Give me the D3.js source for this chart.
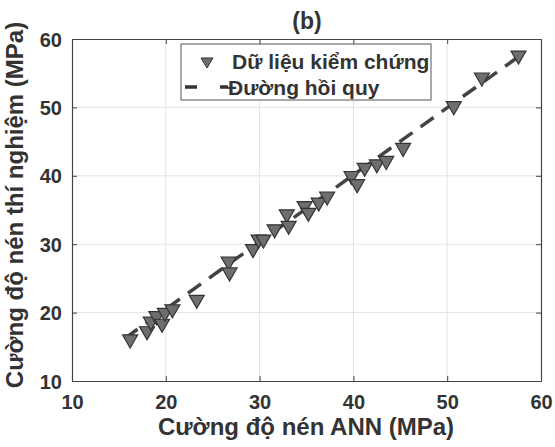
<!DOCTYPE html>
<html>
<head>
<meta charset="utf-8">
<script src="https://cdn.jsdelivr.net/npm/d3@7"></script>
<style>
  body { margin: 0; background: #fff; }
  text { font-family: "Liberation Sans", Arial, sans-serif; font-weight: bold; fill: #333; }
</style>
</head>
<body>
<script>
// data
var annX = [16.2, 18.0, 18.4, 19.0, 19.6, 19.9, 20.7, 23.3, 26.7, 26.8, 29.3, 29.9, 30.4, 31.6, 32.9,
            33.1, 34.8, 35.2, 36.3, 37.2, 39.8, 40.4, 41.2, 42.5, 43.5, 45.3, 50.7, 53.7, 57.6];
var testY = [16.0, 17.2, 18.6, 19.4, 18.3, 19.9, 20.4, 21.8, 27.4, 25.8, 29.2, 30.6, 30.6, 32.1, 34.3,
             32.6, 35.5, 34.5, 36.0, 36.9, 39.9, 38.7, 41.1, 41.6, 42.1, 44.0, 50.1, 54.3, 57.5];
var fitX = [15.6, 57.9];
var fitY = [16.2, 57.7];
var xTicks = [10, 20, 30, 40, 50, 60];
var yTicks = [10, 20, 30, 40, 50, 60];

var w = 555, h = 447;
var pLeft = 72, pRight = 541, pTop = 39, pBottom = 381;

var svg = d3.select('body').append('svg')
  .attr('width', w)
  .attr('height', h);

var x = d3.scaleLinear().domain([10, 60]).range([pLeft, pRight]);
var y = d3.scaleLinear().domain([10, 60]).range([pBottom, pTop]);

// grid
svg.append('g').selectAll('line')
  .data(xTicks.slice(1, -1))
  .enter().append('line')
  .attr('x1', d => x(d)).attr('x2', d => x(d))
  .attr('y1', pTop).attr('y2', pBottom)
  .attr('stroke', '#e4e4e4').attr('stroke-width', 1);
svg.append('g').selectAll('line')
  .data(yTicks.slice(1, -1))
  .enter().append('line')
  .attr('y1', d => y(d)).attr('y2', d => y(d))
  .attr('x1', pLeft).attr('x2', pRight)
  .attr('stroke', '#e4e4e4').attr('stroke-width', 1);

// axes (ticks inside)
var xAxis = svg.append('g')
  .attr('transform', 'translate(0,' + pBottom + ')')
  .call(d3.axisBottom(x).tickValues(xTicks).tickSizeInner(-5).tickSizeOuter(0).tickPadding(21));
var xAxisTop = svg.append('g')
  .attr('transform', 'translate(0,' + pTop + ')')
  .call(d3.axisTop(x).tickValues(xTicks).tickSizeInner(-5).tickSizeOuter(0).tickFormat(''));
var yAxis = svg.append('g')
  .attr('transform', 'translate(' + pLeft + ',0)')
  .call(d3.axisLeft(y).tickValues(yTicks).tickSizeInner(-5).tickSizeOuter(0).tickPadding(10));
var yAxisRight = svg.append('g')
  .attr('transform', 'translate(' + pRight + ',0)')
  .call(d3.axisRight(y).tickValues(yTicks).tickSizeInner(-5).tickSizeOuter(0).tickFormat(''));

[xAxis, xAxisTop, yAxis, yAxisRight].forEach(g => {
  g.select('.domain').attr('stroke', '#444').attr('stroke-width', 1.2);
  g.selectAll('.tick line').attr('stroke', '#444');
  g.selectAll('.tick text')
    .attr('font-family', '"Liberation Sans", Arial, sans-serif')
    .attr('font-weight', 'bold')
    .attr('font-size', '20px')
    .attr('fill', '#333');
});
yAxis.selectAll('.tick text').attr('dy', '0.35em');
xAxis.selectAll('.tick text').attr('dy', '0.35em');

// regression line
svg.append('line')
  .attr('x1', x(fitX[0])).attr('y1', y(fitY[0]))
  .attr('x2', x(fitX[1])).attr('y2', y(fitY[1]))
  .attr('stroke', '#444')
  .attr('stroke-width', 3.5)
  .attr('stroke-dasharray', '16,10');

// triangles
var tri = 'M-7.5,-5 L7.5,-5 L0,8 Z';
svg.append('g').selectAll('path')
  .data(annX)
  .enter().append('path')
  .attr('d', tri)
  .attr('transform', (d, i) => 'translate(' + x(d) + ',' + y(testY[i]) + ')')
  .attr('fill', '#6e6e6e')
  .attr('stroke', '#333')
  .attr('stroke-width', 1.2);

// legend
var lg = svg.append('g');
lg.append('rect')
  .attr('x', 181).attr('y', 44).attr('width', 250).attr('height', 56)
  .attr('fill', '#fff').attr('stroke', '#555').attr('stroke-width', 1);
lg.append('path')
  .attr('d', 'M-6,-4 L6,-4 L0,6 Z')
  .attr('transform', 'translate(207,62)')
  .attr('fill', '#6e6e6e').attr('stroke', '#333');
lg.append('text').attr('x', 232).attr('y', 69).attr('font-size', '21px').text('Dữ liệu kiểm chứng');
lg.append('line')
  .attr('x1', 185).attr('x2', 228).attr('y1', 87).attr('y2', 87)
  .attr('stroke', '#333').attr('stroke-width', 3.5)
  .attr('stroke-dasharray', '12,23,8');
lg.append('text').attr('x', 228).attr('y', 95).attr('font-size', '21px').text('Đường hồi quy');

// title and axis labels
svg.append('text').attr('x', 307).attr('y', 29).attr('text-anchor', 'middle')
  .attr('font-size', '23px').text('(b)');
svg.append('text').attr('x', 306).attr('y', 435).attr('text-anchor', 'middle')
  .attr('font-size', '24px').text('Cường độ nén ANN (MPa)');
svg.append('text')
  .attr('transform', 'translate(23,' + 205 + ') rotate(-90)')
  .attr('text-anchor', 'middle')
  .attr('font-size', '24px').text('Cường độ nén thí nghiệm (MPa)');
</script>
</body>
</html>
